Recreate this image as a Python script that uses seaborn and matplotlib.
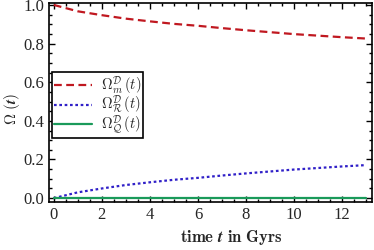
import numpy as np
import pandas as pd
import matplotlib
matplotlib.use("Agg")
import matplotlib.pyplot as plt
import seaborn as sns
from matplotlib.ticker import MultipleLocator

t = [0, 1, 2, 3, 4, 5, 6, 7, 8, 9, 10, 11, 12, 13]
omega_R = [0.0, 0.030, 0.050, 0.068, 0.082, 0.095, 0.105, 0.117, 0.128, 0.138, 0.148, 0.156, 0.164, 0.171]
omega_Q = [0.003] * 14
omega_m = [1.0, 0.967, 0.947, 0.929, 0.915, 0.902, 0.892, 0.880, 0.869, 0.859, 0.849, 0.841, 0.833, 0.826]

labels = [r"$\Omega^{\mathcal{D}}_{m}\,(t)$",
          r"$\Omega^{\mathcal{D}}_{\mathcal{R}}\,(t)$",
          r"$\Omega^{\mathcal{D}}_{\mathcal{Q}}\,(t)$"]

sns.set_style("ticks")
plt.rcParams["font.family"] = ["Liberation Serif", "DejaVu Serif"]
plt.rcParams["mathtext.fontset"] = "cm"

fig = plt.figure(figsize=(3.74, 2.5), dpi=100)
ax = fig.add_axes([0.131, 0.192, 0.864, 0.796])

sns.lineplot(x=t, y=omega_m, ax=ax, color="#c01820", lw=1.6, label=labels[0])
sns.lineplot(x=t, y=omega_R, ax=ax, color="#3020c8", lw=1.6, label=labels[1])
sns.lineplot(x=t, y=omega_Q, ax=ax, color="#1a9a5a", lw=1.6, label=labels[2])
ax.lines[0].set_linestyle((0, (3.5, 2)))
ax.lines[1].set_linestyle((0, (1.2, 1.2)))

ax.set_xlim(-0.2, 13.25)
ax.set_ylim(-0.02, 1.01)
ax.xaxis.set_major_locator(MultipleLocator(2))
ax.xaxis.set_minor_locator(MultipleLocator(0.5))
ax.yaxis.set_major_locator(MultipleLocator(0.2))
ax.yaxis.set_minor_locator(MultipleLocator(0.05))
ax.tick_params(which="both", direction="in", top=True, right=True, labelsize=12, width=1, color="black")
ax.tick_params(which="major", length=4)
ax.tick_params(which="minor", length=2)
for s in ax.spines.values():
    s.set_linewidth(1.2)
    s.set_color("black")

ax.set_xlabel(r"$\mathbf{time}\ \boldsymbol{t}\ \mathbf{in\ Gyrs}$", fontsize=12)
ax.xaxis.set_label_coords(0.565, -0.13)
ax.set_ylabel(r"$\mathbf{\Omega\ (}\boldsymbol{t}\mathbf{)}$", fontsize=11)
ax.yaxis.set_label_coords(-0.085, 0.47)

leg = ax.legend(loc="upper left", bbox_to_anchor=(0.009, 0.653), borderaxespad=0,
                fancybox=False, edgecolor="black", framealpha=1, fontsize=10.5,
                handlelength=2.6, handletextpad=0.6, labelspacing=-0.15, borderpad=0.15)
leg.get_frame().set_linewidth(1.2)

plt.savefig("out.png", dpi=100)
